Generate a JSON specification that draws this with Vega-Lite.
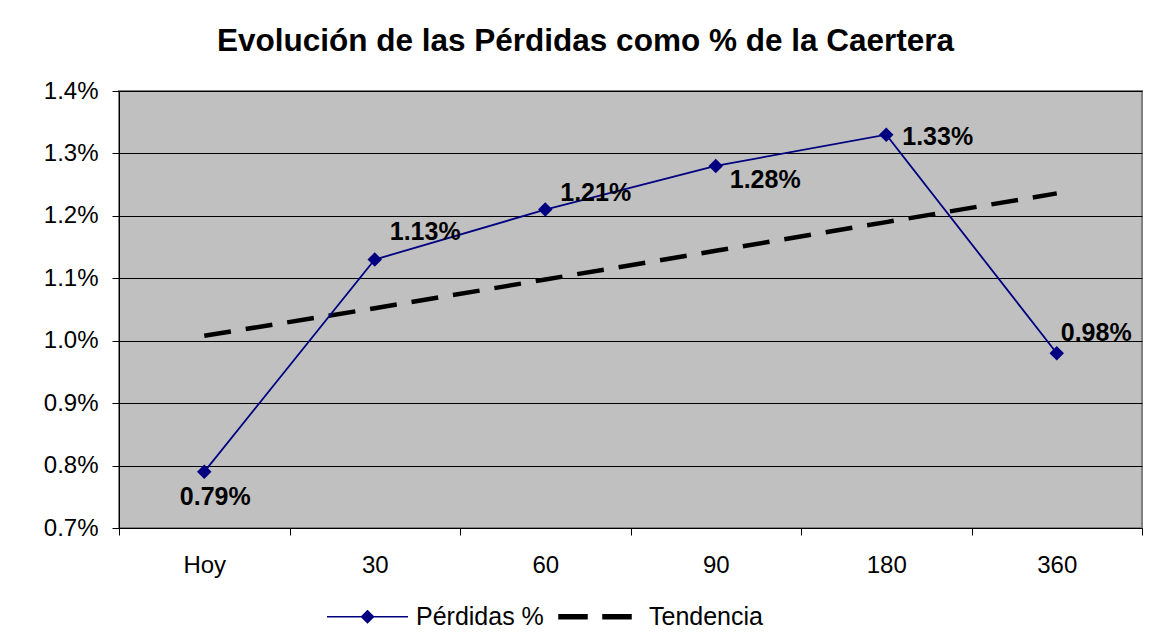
{
  "$schema": "https://vega.github.io/schema/vega-lite/v6.json",
  "width": 1023,
  "height": 437,
  "autosize": {"type": "none"},
  "padding": {"left": 119, "top": 91, "right": 23, "bottom": 111},
  "background": "white",
  "title": {
    "text": "Evolución de las Pérdidas como % de la Caertera",
    "font": "Liberation Sans",
    "fontSize": 31.5,
    "fontWeight": "bold",
    "color": "black",
    "anchor": "middle",
    "dx": -45,
    "offset": 22
  },
  "datasets": {
    "perdidas": [
      {"plazo": "Hoy", "valor": 0.0079, "serie": "Pérdidas %"},
      {"plazo": "30", "valor": 0.0113, "serie": "Pérdidas %"},
      {"plazo": "60", "valor": 0.0121, "serie": "Pérdidas %"},
      {"plazo": "90", "valor": 0.0128, "serie": "Pérdidas %"},
      {"plazo": "180", "valor": 0.0133, "serie": "Pérdidas %"},
      {"plazo": "360", "valor": 0.0098, "serie": "Pérdidas %"}
    ],
    "tendencia": [
      {"plazo": "Hoy", "valor": 0.01008, "serie": "Tendencia"},
      {"plazo": "30", "valor": 0.01052, "serie": "Tendencia"},
      {"plazo": "60", "valor": 0.01098, "serie": "Tendencia"},
      {"plazo": "90", "valor": 0.01144, "serie": "Tendencia"},
      {"plazo": "180", "valor": 0.0119, "serie": "Tendencia"},
      {"plazo": "360", "valor": 0.01236, "serie": "Tendencia"}
    ]
  },
  "encoding": {
    "x": {
      "field": "plazo",
      "type": "nominal",
      "sort": ["Hoy", "30", "60", "90", "180", "360"],
      "scale": {"domain": ["Hoy", "30", "60", "90", "180", "360"], "paddingInner": 0, "paddingOuter": 0},
      "axis": {
        "title": null,
        "labelAngle": 0,
        "labelFont": "Liberation Sans",
        "labelFontSize": 24,
        "labelColor": "black",
        "labelPadding": 18,
        "tickBand": "extent",
        "tickSize": 7,
        "tickColor": "black",
        "domainColor": "black",
        "domainWidth": 1,
        "grid": false
      }
    },
    "y": {
      "field": "valor",
      "type": "quantitative",
      "scale": {"domain": [0.007, 0.014], "nice": false, "zero": false},
      "axis": {
        "title": null,
        "values": [0.007, 0.008, 0.009, 0.01, 0.011, 0.012, 0.013, 0.014],
        "format": ".1%",
        "labelFont": "Liberation Sans",
        "labelFontSize": 24,
        "labelColor": "black",
        "labelPadding": 14,
        "tickSize": 7,
        "tickColor": "black",
        "domainColor": "black",
        "grid": true,
        "gridColor": "black",
        "gridOpacity": 1,
        "gridWidth": 1
      }
    }
  },
  "layer": [
    {
      "data": {"name": "tendencia"},
      "mark": {"type": "line", "color": "black", "strokeWidth": 4.5, "strokeDash": [27, 15], "clip": true},
      "encoding": {}
    },
    {
      "data": {"name": "perdidas"},
      "mark": {"type": "line", "color": "#000080", "strokeWidth": 1.8},
      "encoding": {}
    },
    {
      "data": {"name": "perdidas"},
      "mark": {"type": "point", "shape": "diamond", "filled": true, "color": "#000080", "size": 210, "opacity": 1},
      "encoding": {}
    },
    {
      "data": {"name": "perdidas"},
      "transform": [{"filter": "datum.plazo === 'Hoy'"}],
      "mark": {"type": "text", "font": "Liberation Sans", "fontSize": 25, "fontWeight": "bold", "color": "black", "align": "center", "baseline": "alphabetic", "dx": 11, "dy": 33},
      "encoding": {"text": {"field": "valor", "type": "quantitative", "format": ".2%"}}
    },
    {
      "data": {"name": "perdidas"},
      "transform": [{"filter": "datum.plazo === '30'"}],
      "mark": {"type": "text", "font": "Liberation Sans", "fontSize": 25, "fontWeight": "bold", "color": "black", "align": "left", "baseline": "alphabetic", "dx": 15, "dy": -20},
      "encoding": {"text": {"field": "valor", "type": "quantitative", "format": ".2%"}}
    },
    {
      "data": {"name": "perdidas"},
      "transform": [{"filter": "datum.plazo === '60'"}],
      "mark": {"type": "text", "font": "Liberation Sans", "fontSize": 25, "fontWeight": "bold", "color": "black", "align": "left", "baseline": "alphabetic", "dx": 15, "dy": -9},
      "encoding": {"text": {"field": "valor", "type": "quantitative", "format": ".2%"}}
    },
    {
      "data": {"name": "perdidas"},
      "transform": [{"filter": "datum.plazo === '90'"}],
      "mark": {"type": "text", "font": "Liberation Sans", "fontSize": 25, "fontWeight": "bold", "color": "black", "align": "left", "baseline": "alphabetic", "dx": 14, "dy": 22},
      "encoding": {"text": {"field": "valor", "type": "quantitative", "format": ".2%"}}
    },
    {
      "data": {"name": "perdidas"},
      "transform": [{"filter": "datum.plazo === '180'"}],
      "mark": {"type": "text", "font": "Liberation Sans", "fontSize": 25, "fontWeight": "bold", "color": "black", "align": "left", "baseline": "alphabetic", "dx": 16, "dy": 10},
      "encoding": {"text": {"field": "valor", "type": "quantitative", "format": ".2%"}}
    },
    {
      "data": {"name": "perdidas"},
      "transform": [{"filter": "datum.plazo === '360'"}],
      "mark": {"type": "text", "font": "Liberation Sans", "fontSize": 25, "fontWeight": "bold", "color": "black", "align": "left", "baseline": "alphabetic", "dx": 4, "dy": -12},
      "encoding": {"text": {"field": "valor", "type": "quantitative", "format": ".2%"}}
    },
    {
      "data": {"values": [
        {"plazo": "Hoy", "valor": 0.0079, "serie": "Pérdidas %"},
        {"plazo": "Hoy", "valor": 0.01008, "serie": "Tendencia"}
      ]},
      "mark": {"type": "point", "filled": true, "opacity": 0},
      "encoding": {
        "shape": {
          "field": "serie",
          "type": "nominal",
          "scale": {
            "domain": ["Pérdidas %", "Tendencia"],
            "range": [
              "M-4.05,0L4.05,0M0,-0.6L0.6,0L0,0.6L-0.6,0Z",
              "M-4.15,-0.2L-1.35,-0.2L-1.35,0.2L-4.15,0.2ZM0.25,-0.2L3.05,-0.2L3.05,0.2L0.25,0.2Z"
            ]
          },
          "legend": null
        },
        "color": {
          "field": "serie",
          "type": "nominal",
          "scale": {"domain": ["Pérdidas %", "Tendencia"], "range": ["#000080", "#000000"]},
          "legend": {
            "title": null,
            "orient": "none",
            "direction": "horizontal",
            "legendX": 236,
            "legendY": 513,
            "labelFont": "Liberation Sans",
            "labelFontSize": 25,
            "labelColor": "black",
            "labelOffset": 36,
            "symbolSize": 400,
            "symbolStrokeWidth": 1.5,
            "columnPadding": 12,
            "encode": {
              "symbols": {"update": {
                "opacity": {"value": 1},
                "stroke": {"scale": "color", "field": "value"},
                "strokeWidth": {"value": 1.5}
              }}
            }
          }
        }
      }
    }
  ],
  "config": {
    "view": {"fill": "#C0C0C0", "stroke": "#808080", "strokeWidth": 2},
    "font": "Liberation Sans"
  }
}
